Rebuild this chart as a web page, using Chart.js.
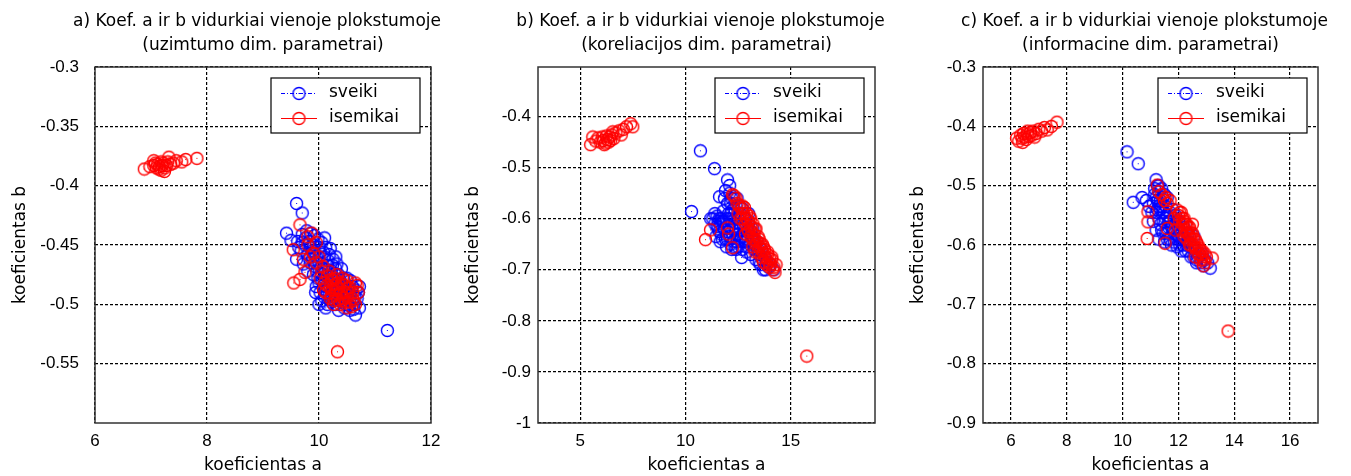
<!DOCTYPE html>
<html>
<head>
<meta charset="utf-8">
<title>Koef. a ir b vidurkiai vienoje plokstumoje</title>
<script src="https://cdn.jsdelivr.net/npm/chart.js@4.4.1/dist/chart.umd.min.js"></script>
<style>
  html, body { margin: 0; padding: 0; background: #fff; overflow: hidden; }
  .panel { position: absolute; top: 0; height: 476px; }
</style>
</head>
<body>
<div class="panel" style="left:0;width:450px"><canvas id="chartA"></canvas></div>
<div class="panel" style="left:450px;width:450px"><canvas id="chartB"></canvas></div>
<div class="panel" style="left:900px;width:451px"><canvas id="chartC"></canvas></div>
<script>
// series names
const seriesNames = ['sveiki', 'isemikai'];
const axisNameX = 'koeficientas a';
const axisNameY = 'koeficientas b';

// a) uzimtumo dim. parametrai
const titleA = ['a) Koef. a ir b vidurkiai vienoje plokstumoje', '(uzimtumo dim. parametrai)'];
const ticksAX = [6, 8, 10, 12];
const ticksAY = [-0.3, -0.35, -0.4, -0.45, -0.5, -0.55];
const sveikiA = [
  [9.6,-0.415],[9.7,-0.423],[9.42,-0.44],[11.22,-0.522],[9.5,-0.446],
  [9.62,-0.447],[9.7,-0.441],[9.78,-0.438],[9.85,-0.44],[9.92,-0.442],[9.75,-0.45],[9.83,-0.447],
  [9.9,-0.45],[9.98,-0.445],[10.05,-0.448],[10.12,-0.452],[9.68,-0.455],[9.8,-0.458],[9.88,-0.455],
  [9.95,-0.46],[10.02,-0.456],[10.1,-0.46],[10.18,-0.458],[10.25,-0.462],[9.85,-0.465],[9.93,-0.468],
  [10.0,-0.465],[10.08,-0.47],[10.15,-0.467],[10.22,-0.472],[10.3,-0.47],[10.35,-0.475],[9.9,-0.475],
  [9.98,-0.478],[10.05,-0.48],[10.12,-0.476],[10.2,-0.482],[10.28,-0.48],[10.38,-0.483],[10.45,-0.485],
  [9.95,-0.485],[10.02,-0.49],[10.1,-0.488],[10.18,-0.492],[10.25,-0.49],[10.33,-0.493],[10.42,-0.49],
  [10.5,-0.492],[10.58,-0.488],[10.05,-0.497],[10.15,-0.5],[10.22,-0.498],[10.3,-0.5],[10.4,-0.498],
  [10.48,-0.5],[10.55,-0.497],[10.62,-0.5],[10.68,-0.495],[10.35,-0.505],[10.45,-0.503],[10.55,-0.505],
  [10.65,-0.509],[10.72,-0.503],[10.6,-0.485],[10.7,-0.49],[10.5,-0.478],[10.4,-0.47],[10.3,-0.46],
  [10.2,-0.453],[10.1,-0.444],[9.6,-0.462],[9.72,-0.466],[9.8,-0.472],[10.72,-0.485],
  [9.76,-0.444],[9.84,-0.452],[9.92,-0.457],[10.0,-0.452],[10.08,-0.456],[10.16,-0.463],[10.24,-0.467],
  [10.32,-0.466],[9.88,-0.462],[9.96,-0.472],[10.04,-0.474],[10.12,-0.471],[10.2,-0.476],[10.28,-0.474],
  [10.36,-0.479],[10.44,-0.478],[10.0,-0.482],[10.08,-0.484],[10.16,-0.486],[10.24,-0.485],[10.32,-0.488],
  [10.4,-0.486],[10.48,-0.488],[10.56,-0.492],[10.64,-0.494],[10.1,-0.494],[10.2,-0.496],[10.3,-0.495],
  [10.38,-0.496],[10.46,-0.494],[10.54,-0.501],[10.62,-0.504],[9.94,-0.49],[10.0,-0.5],[10.12,-0.503],
  [9.7,-0.448],[9.64,-0.452],[9.82,-0.461],[10.56,-0.48],[10.66,-0.488]
];
const isemikaiA = [
  [6.88,-0.386],[6.98,-0.384],[7.05,-0.383],[7.08,-0.381],[7.1,-0.385],[7.12,-0.382],[7.15,-0.384],
  [7.18,-0.387],[7.2,-0.383],[7.22,-0.381],[7.25,-0.385],[7.28,-0.383],[7.3,-0.38],[7.32,-0.376],
  [7.35,-0.382],[7.4,-0.381],[7.45,-0.379],[7.55,-0.38],[7.62,-0.378],[7.82,-0.377],[7.05,-0.379],
  [7.18,-0.38],[7.24,-0.388],[7.14,-0.386],
  [9.66,-0.433],[9.54,-0.454],[9.55,-0.482],[9.66,-0.479],[9.75,-0.473],[10.33,-0.54],[9.87,-0.44],
  [9.9,-0.457],[10.07,-0.468],[9.8,-0.45],[9.95,-0.448],[9.72,-0.462],
  [10.02,-0.478],[10.1,-0.482],[10.15,-0.476],[10.2,-0.486],[10.25,-0.48],[10.3,-0.488],[10.35,-0.482],
  [10.4,-0.49],[10.45,-0.484],[10.5,-0.492],[10.55,-0.486],[10.6,-0.495],[10.65,-0.482],[10.12,-0.49],
  [10.22,-0.493],[10.28,-0.497],[10.38,-0.5],[10.48,-0.498],[10.58,-0.502],[10.65,-0.5],[10.18,-0.472],
  [10.32,-0.475],[10.42,-0.478],[10.5,-0.48],[10.26,-0.5],[10.36,-0.492],[10.44,-0.495],[10.3,-0.483],
  [10.28,-0.478],[10.08,-0.488],[10.55,-0.498],[10.7,-0.49],
  [10.14,-0.484],[10.22,-0.479],[10.3,-0.492],[10.34,-0.486],[10.4,-0.482],[10.46,-0.49],[10.52,-0.486],
  [10.6,-0.49],[10.24,-0.488],[10.2,-0.495],[10.33,-0.496],[10.42,-0.497],[10.5,-0.503],[10.62,-0.497],
  [10.68,-0.484],[10.05,-0.472],[9.95,-0.465],[9.85,-0.46],[9.8,-0.443],[10.0,-0.46]
];

// b) koreliacijos dim. parametrai
const titleB = ['b) Koef. a ir b vidurkiai vienoje plokstumoje', '(koreliacijos dim. parametrai)'];
const ticksBX = [5, 10, 15];
const ticksBY = [-0.4, -0.5, -0.6, -0.7, -0.8, -0.9, -1];
const sveikiB = [
  [10.71,-0.467],[11.38,-0.502],[10.29,-0.586],[12.0,-0.524],[11.62,-0.557],[12.67,-0.676],[12.1,-0.535],
  [11.3,-0.6],[11.4,-0.61],[11.5,-0.595],[11.55,-0.62],[11.6,-0.6],[11.7,-0.63],[11.75,-0.605],
  [11.8,-0.585],[11.85,-0.62],[11.9,-0.64],[11.95,-0.6],[12.0,-0.57],[12.05,-0.615],[12.1,-0.635],
  [12.15,-0.59],[12.2,-0.56],[12.25,-0.62],[12.3,-0.645],[12.35,-0.6],[12.4,-0.575],[12.45,-0.63],
  [12.5,-0.655],[12.55,-0.61],[12.6,-0.59],[12.65,-0.635],[12.7,-0.66],[12.75,-0.615],[12.8,-0.6],
  [12.85,-0.645],[12.9,-0.665],[12.95,-0.625],[13.0,-0.61],[13.05,-0.65],[13.1,-0.67],[13.15,-0.635],
  [13.2,-0.62],[13.3,-0.66],[13.35,-0.68],[13.4,-0.645],[13.5,-0.67],[13.55,-0.69],[13.6,-0.66],
  [13.7,-0.7],[13.75,-0.675],[13.85,-0.685],[13.95,-0.695],[14.05,-0.69],[14.2,-0.7],[11.45,-0.635],
  [11.65,-0.645],[11.95,-0.655],[11.85,-0.56],[11.9,-0.545],[12.1,-0.55],[12.45,-0.56],[12.7,-0.58],
  [13.0,-0.59],[11.2,-0.6],[12.2,-0.66],[12.4,-0.66],
  [11.5,-0.615],[11.65,-0.61],[11.8,-0.605],[11.7,-0.6],[11.6,-0.625],[12.0,-0.625],[12.1,-0.6],
  [12.2,-0.605],[12.3,-0.615],[12.4,-0.62],[12.5,-0.63],[12.6,-0.64],[12.2,-0.585],[12.3,-0.58],
  [12.5,-0.6],[12.6,-0.62],[12.8,-0.63],[12.9,-0.64],[13.0,-0.655],[13.2,-0.645],[13.3,-0.65],
  [13.45,-0.66],[13.65,-0.68],[13.8,-0.7],[12.0,-0.64],[12.15,-0.65],[12.35,-0.655],[11.75,-0.64],
  [12.05,-0.59],[12.15,-0.57],[12.3,-0.56],[12.55,-0.575],[12.85,-0.6],[13.1,-0.625],[13.25,-0.64],
  [11.4,-0.59],[11.55,-0.605],[12.45,-0.645],[12.7,-0.645],[13.5,-0.685]
];
const isemikaiB = [
  [5.5,-0.455],[5.6,-0.44],[5.75,-0.448],[5.85,-0.442],[5.95,-0.45],[6.05,-0.44],[6.1,-0.447],
  [6.2,-0.452],[6.25,-0.438],[6.3,-0.445],[6.35,-0.45],[6.4,-0.44],[6.45,-0.447],[6.5,-0.436],
  [6.6,-0.443],[6.7,-0.432],[6.85,-0.428],[6.95,-0.436],[7.05,-0.425],[7.2,-0.42],[7.4,-0.414],
  [7.5,-0.42],[6.15,-0.455],[6.55,-0.43],
  [15.76,-0.869],[10.95,-0.641],[11.19,-0.622],[12.24,-0.553],[12.0,-0.618],[12.24,-0.657],[12.05,-0.63],
  [12.4,-0.56],[12.55,-0.575],[12.65,-0.58],[12.75,-0.59],[12.8,-0.578],[12.9,-0.6],[13.0,-0.605],
  [13.05,-0.595],[13.1,-0.615],[13.15,-0.625],[13.2,-0.61],[13.25,-0.63],[13.3,-0.64],[13.35,-0.62],
  [13.4,-0.645],[13.45,-0.635],[13.5,-0.655],[13.55,-0.648],[13.6,-0.66],[13.65,-0.65],[13.7,-0.668],
  [13.75,-0.66],[13.8,-0.675],[13.9,-0.67],[13.95,-0.685],[14.0,-0.678],[14.05,-0.69],[14.1,-0.68],
  [14.2,-0.695],[14.25,-0.705],[14.3,-0.69],[13.2,-0.655],[13.3,-0.665],[12.95,-0.62],[12.6,-0.6],
  [12.85,-0.63],
  [12.5,-0.59],[12.7,-0.6],[12.85,-0.61],[13.0,-0.625],[13.1,-0.635],[13.2,-0.64],[13.35,-0.65],
  [13.45,-0.665],[13.6,-0.675],[13.7,-0.685],[13.85,-0.69],[14.0,-0.695],[14.15,-0.7],[12.7,-0.575],
  [12.9,-0.59],[13.1,-0.6],[13.3,-0.62],[13.5,-0.64],[13.7,-0.655],[13.9,-0.665],[14.1,-0.675],
  [12.45,-0.57],[12.3,-0.555]
];

// c) informacine dim. parametrai
const titleC = ['c) Koef. a ir b vidurkiai vienoje plokstumoje', '(informacine dim. parametrai)'];
const ticksCX = [6, 8, 10, 12, 14, 16];
const ticksCY = [-0.3, -0.4, -0.5, -0.6, -0.7, -0.8, -0.9];
const sveikiC = [
  [10.16,-0.443],[10.56,-0.463],[10.38,-0.528],[13.14,-0.639],[11.95,-0.603],[10.7,-0.52],[10.85,-0.525],
  [11.2,-0.49],[11.25,-0.5],[11.15,-0.505],[11.3,-0.51],[11.2,-0.52],[11.35,-0.525],[11.1,-0.53],
  [11.25,-0.54],[11.4,-0.535],[11.5,-0.545],[11.3,-0.555],[11.45,-0.56],[11.6,-0.55],[11.7,-0.56],
  [11.4,-0.575],[11.55,-0.58],[11.65,-0.57],[11.8,-0.575],[11.9,-0.565],[11.5,-0.595],[11.7,-0.59],
  [11.85,-0.595],[12.0,-0.585],[12.1,-0.58],[12.2,-0.59],[12.05,-0.6],[12.3,-0.6],[12.4,-0.595],
  [12.5,-0.605],[12.6,-0.61],[12.7,-0.62],[12.8,-0.63],[12.9,-0.635],[12.65,-0.63],[12.75,-0.615],
  [12.0,-0.56],[12.2,-0.57],[12.35,-0.58],[11.8,-0.54],[11.9,-0.55],[11.6,-0.52],[11.5,-0.515],
  [11.4,-0.505],[11.05,-0.545],[10.95,-0.535],[11.1,-0.56],[11.2,-0.575],[12.55,-0.585],[12.1,-0.61],
  [11.3,-0.59],
  [11.15,-0.515],[11.25,-0.525],[11.35,-0.54],[11.45,-0.545],[11.55,-0.555],[11.65,-0.56],[11.75,-0.57],
  [11.85,-0.58],[11.95,-0.59],[12.05,-0.59],[12.15,-0.6],[12.25,-0.61],[12.35,-0.61],[12.45,-0.62],
  [12.55,-0.62],[12.65,-0.625],[11.35,-0.565],[11.45,-0.58],[11.6,-0.59],[11.75,-0.6],[11.3,-0.5],
  [11.45,-0.52],[11.55,-0.535],[11.7,-0.545],[11.85,-0.555],[12.0,-0.57],[12.15,-0.585],[12.3,-0.595],
  [11.2,-0.545],[11.3,-0.535],[12.85,-0.615],[12.95,-0.625],[13.05,-0.63]
];
const isemikaiC = [
  [6.2,-0.42],[6.28,-0.425],[6.35,-0.415],[6.4,-0.42],[6.45,-0.412],[6.5,-0.418],[6.55,-0.422],
  [6.6,-0.413],[6.65,-0.417],[6.7,-0.41],[6.75,-0.415],[6.8,-0.408],[6.9,-0.412],[7.0,-0.405],
  [7.1,-0.408],[7.2,-0.402],[7.3,-0.406],[7.45,-0.4],[7.65,-0.393],[6.42,-0.427],[6.6,-0.408],
  [6.85,-0.418],
  [13.78,-0.745],[10.88,-0.589],[10.91,-0.561],[10.91,-0.544],[11.52,-0.597],[11.6,-0.572],[11.24,-0.499],
  [13.21,-0.622],[11.7,-0.525],[11.55,-0.52],
  [11.3,-0.51],[11.5,-0.525],[11.95,-0.541],[12.0,-0.55],[12.05,-0.56],[12.1,-0.545],[12.15,-0.565],
  [12.2,-0.555],[12.25,-0.575],[12.3,-0.565],[12.35,-0.58],[12.4,-0.57],[12.45,-0.59],[12.5,-0.58],
  [12.55,-0.6],[12.6,-0.59],[12.65,-0.605],[12.7,-0.6],[12.75,-0.615],[12.8,-0.61],[12.85,-0.62],
  [12.9,-0.625],[12.95,-0.63],[13.0,-0.62],[12.2,-0.585],[12.4,-0.6],[12.6,-0.62],[12.1,-0.575],
  [11.85,-0.555],[12.3,-0.59],[12.5,-0.565],[11.9,-0.575],
  [12.05,-0.545],[12.15,-0.555],[12.25,-0.565],[12.35,-0.57],[12.45,-0.58],[12.55,-0.59],[12.65,-0.595],
  [12.75,-0.605],[12.85,-0.61],[12.95,-0.615],[12.3,-0.58],[12.45,-0.6],[12.6,-0.605],[12.7,-0.615],
  [12.8,-0.625],[12.2,-0.56],[12.4,-0.585],[11.6,-0.53],[11.4,-0.515],[12.9,-0.635]
];

const TEXT_FONT = 'DejaVu Sans';
const TICK_FONT = 'Liberation Sans';
const BLUE = '#0000ff';
const RED = '#ff0000';

// small ring with a dot in the middle, like the plot markers
function ringMarker(color) {
  const c = document.createElement('canvas');
  c.width = 15; c.height = 15;
  const g = c.getContext('2d');
  g.strokeStyle = color;
  g.lineWidth = 1.4;
  g.beginPath();
  g.arc(7.5, 7.5, 6, 0, Math.PI * 2);
  g.stroke();
  g.fillStyle = color;
  g.fillRect(7, 7, 1, 1);
  return c;
}
const blueRing = ringMarker(BLUE);
const redRing = ringMarker(RED);

// frame, title and legend drawn straight onto the canvas
function framePlugin(title) {
  return {
    id: 'frame',
    afterDraw(chart) {
      const {ctx, chartArea: a} = chart;
      ctx.save();
      ctx.strokeStyle = '#333';
      ctx.lineWidth = 1.5;
      ctx.strokeRect(a.left, a.top, a.right - a.left, a.bottom - a.top);

      // title, two lines over the axes
      const cx = (a.left + a.right) / 2;
      ctx.fillStyle = '#000';
      ctx.font = '17px "' + TEXT_FONT + '"';
      ctx.textAlign = 'center';
      ctx.textBaseline = 'alphabetic';
      ctx.fillText(title[0], cx - 6, 26);
      ctx.fillText(title[1], cx, 50);

      // legend box in the upper right corner
      const w = 149, h = 55;
      const lx = a.right - 11 - w, ly = a.top + 11;
      ctx.fillStyle = '#fff';
      ctx.fillRect(lx, ly, w, h);
      ctx.strokeStyle = '#000';
      ctx.lineWidth = 1.2;
      ctx.strokeRect(lx, ly, w, h);
      const rows = [
        {name: seriesNames[0], color: BLUE, dash: [4, 2, 1, 2], ring: blueRing},
        {name: seriesNames[1], color: RED, dash: [], ring: redRing}
      ];
      rows.forEach((r, i) => {
        const y = ly + 15 + i * 25;
        ctx.strokeStyle = r.color;
        ctx.lineWidth = 1.2;
        ctx.setLineDash(r.dash);
        ctx.beginPath();
        ctx.moveTo(lx + 10, y + 0.5);
        ctx.lineTo(lx + 46, y + 0.5);
        ctx.stroke();
        ctx.setLineDash([]);
        ctx.drawImage(r.ring, lx + 28 - 7.5, y - 7);
        ctx.fillStyle = '#000';
        ctx.textAlign = 'left';
        ctx.textBaseline = 'middle';
        ctx.fillText(r.name, lx + 58, y);
      });
      ctx.restore();
    }
  };
}

function makePanel(id, opts) {
  const toPoints = arr => arr.map(p => ({x: p[0], y: p[1]}));
  return new Chart(document.getElementById(id), {
    type: 'scatter',
    data: {
      datasets: [
        {label: seriesNames[0], data: toPoints(opts.sveiki), pointStyle: blueRing, pointRadius: 6, order: 1},
        {label: seriesNames[1], data: toPoints(opts.isemikai), pointStyle: redRing, pointRadius: 6, order: 0}
      ]
    },
    options: {
      responsive: true,
      maintainAspectRatio: false,
      animation: false,
      events: [],
      layout: { padding: { top: 67, right: opts.padRight, bottom: 0, left: 0 } },
      plugins: { legend: { display: false }, tooltip: { enabled: false } },
      scales: {
        x: {
          type: 'linear',
          min: opts.xMin, max: opts.xMax,
          afterBuildTicks: s => { s.ticks = opts.ticksX.map(v => ({value: v})); },
          afterFit: s => { s.height = 53; },
          ticks: {
            color: '#000', padding: 8,
            font: { family: TICK_FONT, size: 17 },
            callback: v => String(v)
          },
          grid: { color: '#000', lineWidth: 1.2, drawTicks: false },
          border: { display: false, dash: [3, 2] },
          title: {
            display: true, text: axisNameX, color: '#000',
            font: { family: TEXT_FONT, size: 17 },
            padding: { top: 0, bottom: 0 }
          }
        },
        y: {
          type: 'linear',
          min: opts.yMin, max: opts.yMax,
          afterBuildTicks: s => { s.ticks = opts.ticksY.map(v => ({value: v})); },
          afterFit: s => { s.width = opts.yWidth; },
          ticks: {
            color: '#000', padding: opts.yTickPad,
            font: { family: TICK_FONT, size: 17 },
            callback: v => String(v)
          },
          grid: { color: '#000', lineWidth: 1.2, drawTicks: false },
          border: { display: false, dash: [3, 2] },
          title: {
            display: true, text: axisNameY, color: '#000',
            font: { family: TEXT_FONT, size: 17 },
            padding: { top: opts.yTitlePad, bottom: 0 }
          }
        }
      }
    },
    plugins: [framePlugin(opts.title)]
  });
}

makePanel('chartA', {
  title: titleA, sveiki: sveikiA, isemikai: isemikaiA,
  xMin: 6, xMax: 12, yMin: -0.6, yMax: -0.3,
  ticksX: ticksAX, ticksY: ticksAY,
  yWidth: 95, padRight: 19, yTickPad: 16, yTitlePad: 10
});
makePanel('chartB', {
  title: titleB, sveiki: sveikiB, isemikai: isemikaiB,
  xMin: 3, xMax: 19, yMin: -1, yMax: -0.303,
  ticksX: ticksBX, ticksY: ticksBY,
  yWidth: 88, padRight: 25, yTickPad: 7, yTitlePad: 13
});
makePanel('chartC', {
  title: titleC, sveiki: sveikiC, isemikai: isemikaiC,
  xMin: 5, xMax: 17, yMin: -0.9, yMax: -0.3,
  ticksX: ticksCX, ticksY: ticksCY,
  yWidth: 83, padRight: 33, yTickPad: 7, yTitlePad: 8
});
</script>
</body>
</html>
